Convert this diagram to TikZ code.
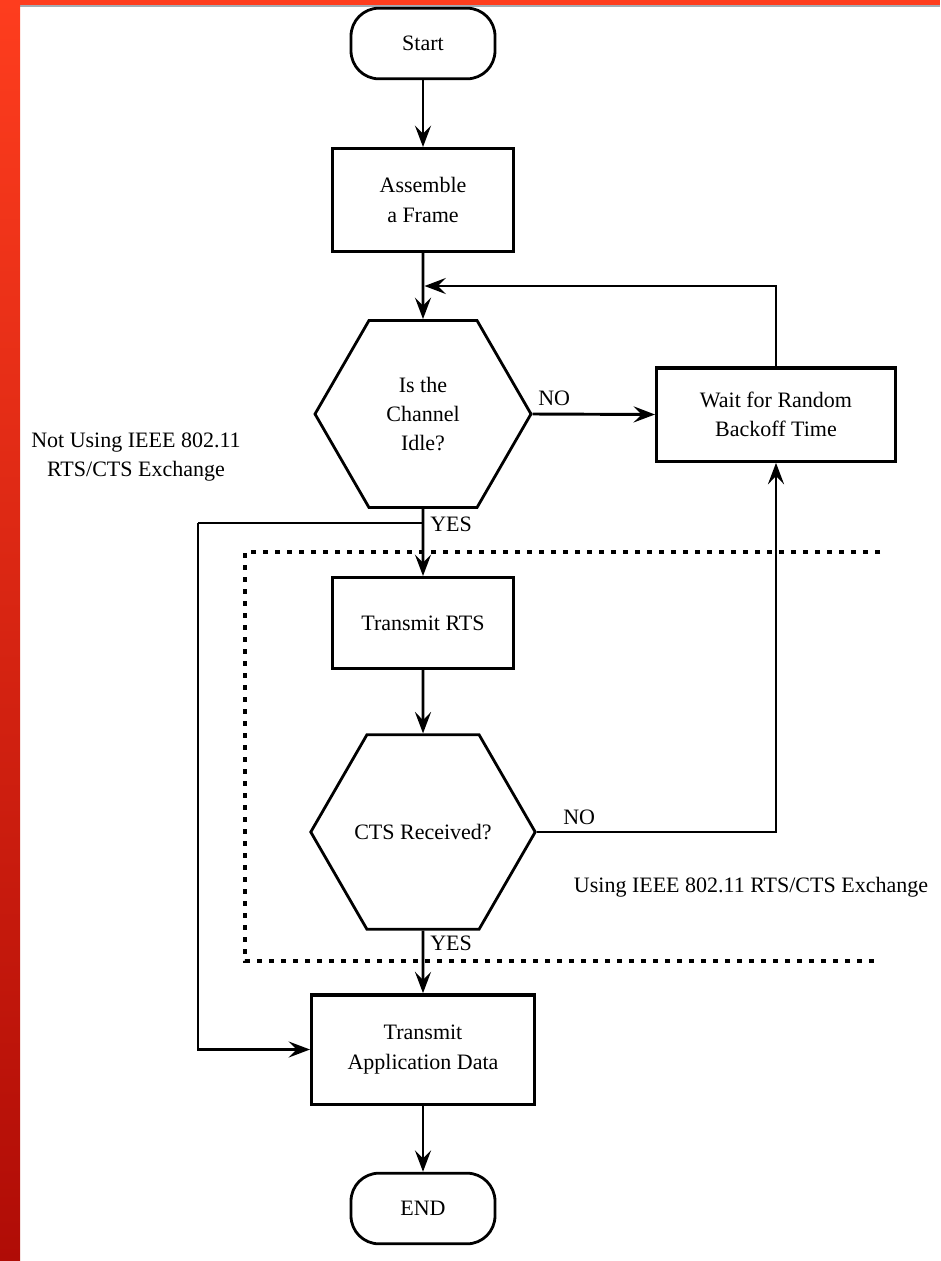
\documentclass[tikz,border=0pt]{standalone}
\usepackage{fontspec}
\setmainfont{Liberation Serif}
\usetikzlibrary{shapes.geometric,arrows.meta}
\definecolor{barTop}{HTML}{FE3D1E}
\definecolor{barBot}{HTML}{B00C06}
\definecolor{barEdge}{HTML}{A4ACB4}
\begin{document}
\begin{tikzpicture}[x=0.75pt,y=-0.75pt,
  every node/.style={font=\fontsize{16.5}{22}\selectfont, align=center},
  term/.style={draw, line width=2.1pt, rounded corners=21pt,
    minimum width=108pt, minimum height=53pt},
  procbox/.style={draw, line width=2.5pt, inner sep=0pt},
  hexa/.style={draw, line width=2.1pt, regular polygon, regular polygon sides=6,
    minimum size=162pt, inner sep=0pt},
  conn/.style={line width=2.2pt, -{Stealth[length=16pt,width=12pt,inset=6pt]}},
  line/.style={line width=2.2pt},
  zone/.style={line width=2.6pt, dash pattern=on 3.5pt off 5.5pt},
  lbl/.style={inner sep=0pt}]
  \useasboundingbox (0,0) rectangle (940,1261);

  % page decoration: top stripe and shaded left band
  \fill[barTop] (0,0) rectangle (940,5);
  \fill[barEdge] (20,5) rectangle (940,6.5);
  \shade[top color=barTop, bottom color=barBot] (0,0) rectangle (20,1261);

  % flow nodes
  \node[term] (start) at (423,43.5) {Start};
  \node[procbox, minimum width=136pt, minimum height=77pt] (asm) at (423,200) {Assemble\\a Frame};
  \node[hexa] (idle) at (423,414) {Is the\\Channel\\Idle?};
  \node[procbox, minimum width=179pt, minimum height=70pt] (wait) at (776,414.5) {Wait for Random\\Backoff Time};
  \node[procbox, minimum width=136pt, minimum height=68pt] (rts) at (423,623) {Transmit RTS};
  \node[hexa] (cts) at (423,832) {CTS Received?};
  \node[procbox, minimum width=167pt, minimum height=82pt] (app) at (423,1049.5) {Transmit\\Application Data};
  \node[term] (end) at (423,1208.5) {END};

  % RTS/CTS region
  \draw[zone] (880,552) -- (245,552) -- (245,961) -- (880,961);

  % main column
  \draw[conn] (start) -- (asm);
  \draw[conn] (asm) -- (idle);
  \draw[conn] (idle) -- (rts);
  \draw[conn] (rts) -- (cts);
  \draw[conn] (cts) -- (app);
  \draw[conn] (app) -- (end);

  % branches
  \draw[conn] (idle.east) -- (wait.west);
  \coordinate (merge) at (424.5,286);
  \draw[conn] (wait.north) |- (merge);
  \draw[conn] (cts.east) -| (wait.south);
  \coordinate (split) at (423,523);
  \coordinate (bypass) at (198,523);
  \draw[line] (split) -- (bypass);
  \draw[conn] (bypass) |- (app.west);

  % labels
  \node[lbl, anchor=west] (no1) at (538,398) {NO};
  \node[lbl, anchor=west] (yes1) at (430,524) {YES};
  \node[lbl, anchor=west] (no2) at (563,817) {NO};
  \node[lbl, anchor=west] (yes2) at (430,943) {YES};
  \node[lbl] (inzone) at (751,887) {Using IEEE 802.11 RTS/CTS Exchange};
  \node[lbl] (outzone) at (136,457) {Not Using IEEE 802.11\\RTS/CTS Exchange};
\end{tikzpicture}
\end{document}
